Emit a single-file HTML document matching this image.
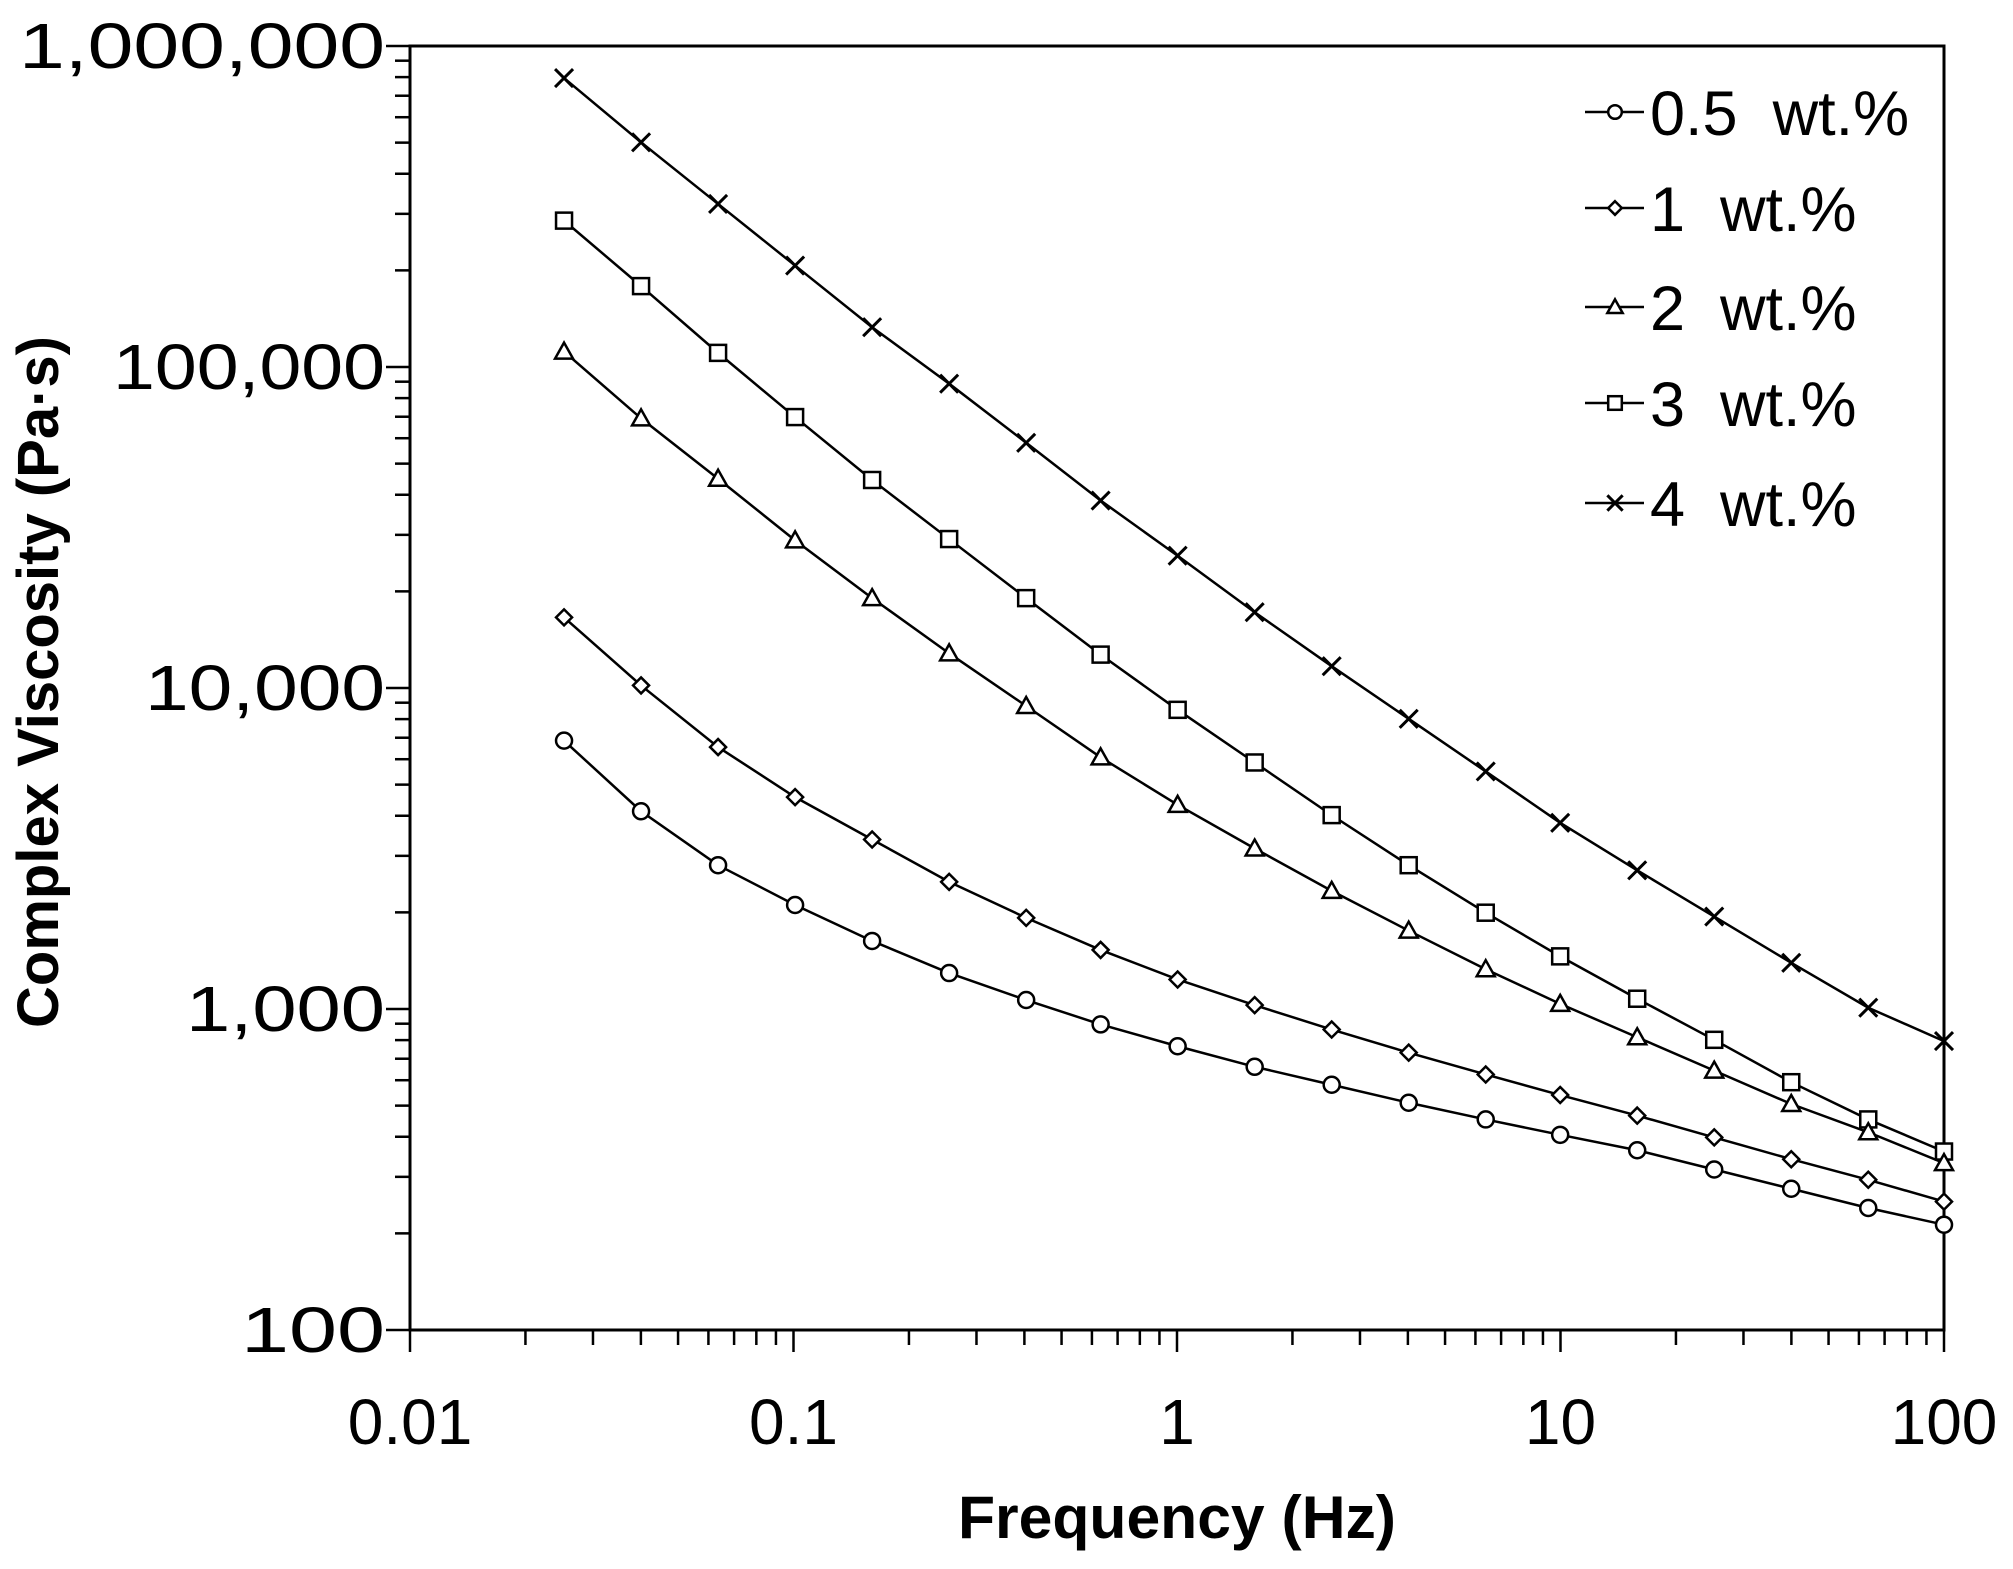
<!DOCTYPE html>
<html><head><meta charset="utf-8"><style>
html,body{margin:0;padding:0;background:#fff;}
svg{display:block;}
text{font-family:"Liberation Sans",sans-serif;fill:#000;}
</style></head><body>
<svg id="c" width="2013" height="1569" xmlns="http://www.w3.org/2000/svg"></svg>
<script>
const L=410,T=46,R=1944,B=1330;
const dx=(R-L)/4, dy=(B-T)/4;
const X=v=>L+(Math.log10(v)+2)*dx;
const Y=v=>B-(Math.log10(v)-2)*dy;
let s='';
s+=`<rect x="${L}" y="${T}" width="${R-L}" height="${B-T}" fill="none" stroke="#000" stroke-width="3"/>`;
for(let d=2;d<6;d++){for(let m=1;m<10;m++){const y=Y(m*Math.pow(10,d));s+=`<line x1="${L-(m==1?24:15)}" x2="${L}" y1="${y}" y2="${y}" stroke="#000" stroke-width="2.5"/>`;}}
s+=`<line x1="${L-24}" x2="${L}" y1="${T}" y2="${T}" stroke="#000" stroke-width="2.5"/>`;
for(let d=-2;d<2;d++){for(let m=1;m<10;m++){const x=X(m*Math.pow(10,d));s+=`<line x1="${x}" x2="${x}" y1="${B}" y2="${B+(m==1?22:15)}" stroke="#000" stroke-width="2.5"/>`;}}
s+=`<line x1="${R}" x2="${R}" y1="${B}" y2="${B+22}" stroke="#000" stroke-width="2.5"/>`;
const yl=[['100',144],['1,000',199],['10,000',240],['100,000',272],['1,000,000',366]];
yl.forEach((t,i)=>{s+=`<text x="${385-t[1]}" y="${B-i*dy+22}" font-size="64" textLength="${t[1]}" lengthAdjust="spacingAndGlyphs">${t[0]}</text>`;});
const xl=['0.01','0.1','1','10','100'];
xl.forEach((t,i)=>{s+=`<text x="${L+i*dx}" y="1444" font-size="64" text-anchor="middle">${t}</text>`;});
s+=`<text x="1177" y="1538" font-size="60" font-weight="bold" text-anchor="middle" textLength="438" lengthAdjust="spacingAndGlyphs">Frequency (Hz)</text>`;
s+=`<text transform="translate(58,682) rotate(-90)" font-size="58" font-weight="bold" text-anchor="middle">Complex Viscosity (Pa·s)</text>`;
const xd=[440,500,560,620,680,740,800,858,918,978,1038,1098,1158,1216,1276,1336,1396,1456,1515];
const data={
x:[60,110,158,206,254,298,344,389,432,476,518,559,600,640,677,713,749,784,810],
sq:[171,222,274,324,373,419,465,509,552,593,634,673,710,744,777,809,842,871,896],
tr:[273,325,372,420,465,508,549,589,626,660,693,724,754,781,807,833,859,881,905],
di:[480,533,581,620,653,686,714,739,762,782,801,819,836,852,868,885,902,918,935],
ci:[576,631,673,704,732,757,778,797,814,830,844,858,871,883,895,910,925,940,953]};
const ax=v=>410+(v-320)*(1534/1195), ay=v=>46+(v-35)*1.284;
function mk(t,x,y,k){k=k||1;
 if(t=='ci')return `<circle cx="${x}" cy="${y}" r="${8*k}" fill="#fff" stroke="#000" stroke-width="2.5"/>`;
 if(t=='di')return `<polygon points="${x},${y-8*k} ${x+8*k},${y} ${x},${y+8*k} ${x-8*k},${y}" fill="#fff" stroke="#000" stroke-width="2.5"/>`;
 if(t=='tr')return `<polygon points="${x},${y-9*k} ${x+9*k},${y+7*k} ${x-9*k},${y+7*k}" fill="#fff" stroke="#000" stroke-width="2.5"/>`;
 if(t=='sq')return `<rect x="${x-8*k}" y="${y-8*k}" width="${16*k}" height="${16*k}" fill="#fff" stroke="#000" stroke-width="2.5"/>`;
 return `<path d="M${x-9*k},${y-9*k}L${x+9*k},${y+9*k}M${x+9*k},${y-9*k}L${x-9*k},${y+9*k}" stroke="#000" stroke-width="3"/>`;
}
for(const k in data){const p=data[k].map((v,i)=>[ax(xd[i]),ay(v)]);
 s+=`<polyline points="${p.map(q=>q.join(',')).join(' ')}" fill="none" stroke="#000" stroke-width="2.5"/>`;
 p.forEach(q=>s+=mk(k,q[0],q[1]));}
const leg=[['ci','0.5  wt.%',112],['di','1  wt.%',208],['tr','2  wt.%',307],['sq','3  wt.%',403],['x','4  wt.%',503]];
leg.forEach(l=>{s+=`<line x1="1585" x2="1644" y1="${l[2]}" y2="${l[2]}" stroke="#000" stroke-width="2.5"/>`+mk(l[0],1615,l[2],0.85);
 s+=`<text x="1650" y="${l[2]+23}" font-size="63" style="white-space:pre">${l[1]}</text>`;});
document.getElementById('c').innerHTML=s;
</script>
</body></html>
